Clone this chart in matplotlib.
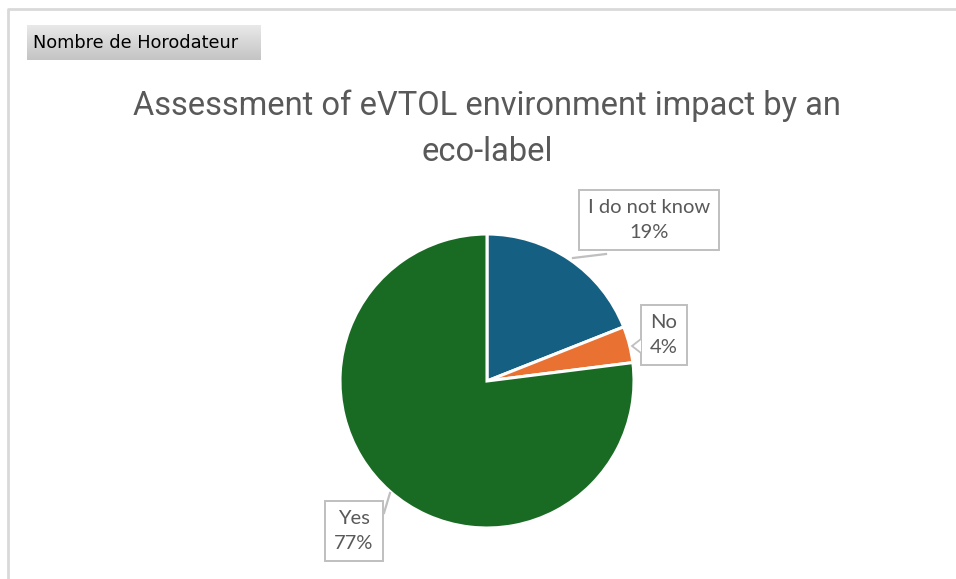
import numpy as np
import matplotlib
matplotlib.use("Agg")
import matplotlib.pyplot as plt
from matplotlib.patches import Polygon

# Survey answers
categories = ["I do not know", "No", "Yes"]
shares = [19, 4, 77]
colors = ["#156082", "#E97132", "#196B24"]

title_lines = ["Assessment of eVTOL environment impact by an", "eco-label"]
field_button = "Nombre de Horodateur"

W, H = 956, 579
fig = plt.figure(figsize=(W / 100, H / 100), dpi=100)
ax = fig.add_axes([0, 0, 1, 1])


def py(y):
    # pixel rows counted from the top
    return H - y


ax.pie(shares, colors=colors, startangle=90, counterclock=False,
       center=(487, py(381)), radius=147,
       wedgeprops=dict(edgecolor="white", linewidth=2.2))
ax.set_xlim(0, W)
ax.set_ylim(0, H)
ax.set_aspect("equal")
ax.axis("off")

# chart area frame
ax.plot([8, 8, W], [0, py(9), py(9)], color="#D9D9D9", lw=2, solid_capstyle="butt")

# pivot field button with gradient
grad = np.linspace(0, 1, 64).reshape(-1, 1)
cmap = matplotlib.colors.LinearSegmentedColormap.from_list("btn", ["#E9E9E9", "#C4C4C4"])
ax.imshow(grad, cmap=cmap, extent=(27, 261, py(60), py(25)), aspect="auto", zorder=1)
ax.text(33, py(48), field_button, fontsize=12.8, family="DejaVu Sans",
        color="#000000", va="baseline", ha="left", zorder=2)

for line, base in zip(title_lines, [115, 161]):
    ax.text(487, py(base), line, fontsize=23.5, family="Roboto", color="#595959",
            ha="center", va="baseline")

label_color = "#595959"
box = dict(boxstyle="square,pad=0.45", facecolor="white", edgecolor="#BFBFBF", lw=1.4)
label_pos = [(649, py(220)), (664, py(335)), (354, py(531))]
for cat, val, (x, y) in zip(categories, shares, label_pos):
    ax.text(x, y, f"{cat}\n{val}%", fontsize=14.5, family="Lato", color=label_color,
            ha="center", va="center", bbox=box, linespacing=1.62, zorder=5)

# leader lines
ax.plot([573, 606], [py(258), py(254)], color="#BFBFBF", lw=1.6, zorder=4)
ax.add_patch(Polygon([(641, py(339)), (632, py(346)), (641, py(353))], closed=False,
                     facecolor="white", edgecolor="#BFBFBF", lw=1.3, zorder=6))
ax.plot([390, 384], [py(493), py(513)], color="#BFBFBF", lw=1.6, zorder=4)

fig.savefig("out.png", dpi=100)
